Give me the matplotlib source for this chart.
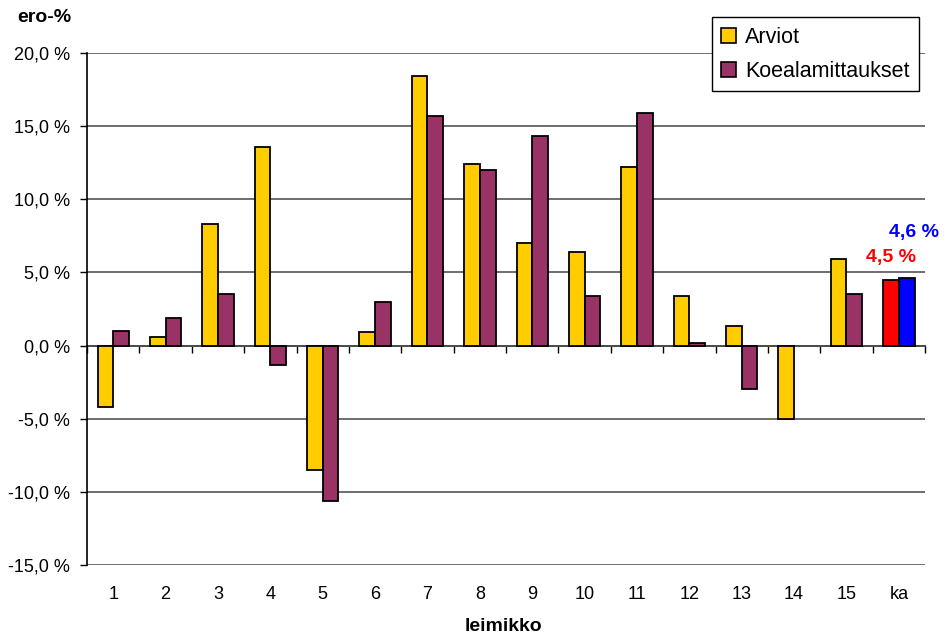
import matplotlib
matplotlib.use("Agg")
import matplotlib.pyplot as plt
import numpy as np
from matplotlib.patches import Patch

plt.rcParams['font.family'] = ['Liberation Sans', 'DejaVu Sans']

categories = ['1', '2', '3', '4', '5', '6', '7', '8', '9', '10', '11', '12', '13', '14', '15', 'ka']
arviot = [-4.2, 0.6, 8.3, 13.6, -8.5, 0.9, 18.4, 12.4, 7.0, 6.4, 12.2, 3.4, 1.35, -5.0, 5.95]
koeala = [1.0, 1.9, 3.55, -1.3, -10.6, 3.0, 15.7, 12.0, 14.35, 3.4, 15.9, 0.2, -3.0, np.nan, 3.55]
ka_arviot = 4.5
ka_koeala = 4.6
yticks = [-15, -10, -5, 0, 5, 10, 15, 20]
ytick_labels = ['-15,0 %', '-10,0 %', '-5,0 %', '0,0 %', '5,0 %', '10,0 %', '15,0 %', '20,0 %']

YELLOW = '#FFCC00'
PURPLE = '#993366'
w = 0.3

fig = plt.figure(figsize=(9.47, 6.39), dpi=100)
ax = fig.add_axes([0.0919, 0.1158, 0.8849, 0.8012])

x = np.arange(len(arviot))
ax.bar(x - w / 2, arviot, w, color=YELLOW, edgecolor='black', linewidth=1.3, zorder=3)
ax.bar(x + w / 2, koeala, w, color=PURPLE, edgecolor='black', linewidth=1.3, zorder=3)

xk = len(arviot)
ax.bar(xk - w / 2, ka_arviot, w, color='#FF0000', edgecolor='black', linewidth=1.3, zorder=3)
ax.bar(xk + w / 2, ka_koeala, w, color='#0000FF', edgecolor='black', linewidth=1.3, zorder=3)

ax.annotate(f'{ka_arviot:.1f} %'.replace('.', ','), (xk - w / 2, ka_arviot),
            xytext=(0, 10), textcoords='offset points', ha='center', va='bottom',
            color='#FF0000', fontsize=14, fontweight='bold')
ax.annotate(f'{ka_koeala:.1f} %'.replace('.', ','), (xk + w / 2, ka_koeala),
            xytext=(5, 27), textcoords='offset points', ha='center', va='bottom',
            color='#0000FF', fontsize=14, fontweight='bold')

ax.set_xlim(-0.5, len(categories) - 0.5)
ax.set_ylim(-15, 20)
ax.set_yticks(yticks)
ax.set_yticklabels(ytick_labels, fontsize=13)
ax.yaxis.grid(True, color='#555555', linewidth=1.2, zorder=0)
ax.set_axisbelow(True)
ax.tick_params(axis='y', direction='out', length=5, width=1, pad=7)

ax.set_xticks(np.arange(len(categories)))
ax.set_xticklabels(categories, fontsize=13)
ax.tick_params(axis='x', length=0, pad=15)

for side in ['top', 'right', 'bottom']:
    ax.spines[side].set_visible(False)
ax.spines['left'].set_linewidth(1.2)

# category axis along zero with boundary ticks
sec = ax.secondary_xaxis(15 / 35)
sec.set_xticks(np.arange(len(categories) + 1) - 0.5)
sec.set_xticklabels([])
sec.tick_params(axis='x', direction='out', length=5, width=1)
sec.spines['bottom'].set_linewidth(1.2)

fig.text(0.018, 0.972, 'ero-%', fontsize=14, fontweight='bold', ha='left', va='center')
fig.text(0.532, 0.019, 'leimikko', fontsize=14, fontweight='bold', ha='center', va='center')

handles = [Patch(facecolor=YELLOW, edgecolor='black', linewidth=1.2),
           Patch(facecolor=PURPLE, edgecolor='black', linewidth=1.2)]
leg = ax.legend(handles, ['Arviot', 'Koealamittaukset'], loc='upper right',
                bbox_to_anchor=(0.993, 1.07), fontsize=15.5, frameon=True,
                fancybox=False, edgecolor='black', framealpha=1,
                handlelength=0.7, handleheight=0.7, handletextpad=0.4,
                borderpad=0.45, labelspacing=0.6, borderaxespad=0)
leg.get_frame().set_linewidth(1.0)
leg.set_zorder(5)

fig.savefig('out.png', dpi=100)
